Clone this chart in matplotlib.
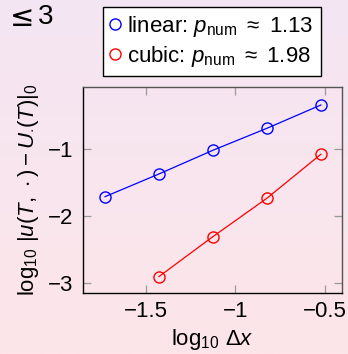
import numpy as np
import matplotlib
matplotlib.use("Agg")
import matplotlib.pyplot as plt
from matplotlib.lines import Line2D

plt.rcParams['font.family'] = ['Liberation Sans', 'DejaVu Sans']
plt.rcParams['mathtext.fontset'] = 'custom'
plt.rcParams['mathtext.rm'] = 'Liberation Sans'
plt.rcParams['mathtext.it'] = 'Liberation Sans:italic'
plt.rcParams['mathtext.bf'] = 'Liberation Sans:bold'
plt.rcParams['axes.unicode_minus'] = True

# data
log_dx_linear = [-1.727, -1.426, -1.125, -0.824, -0.523]
log_err_linear = [-1.71, -1.372, -1.019, -0.692, -0.345]
log_dx_cubic = [-1.426, -1.125, -0.824, -0.523]
log_err_cubic = [-2.90, -2.305, -1.734, -1.079]
label_linear = r"linear: $p_{\mathrm{num}}\ \approx\ 1.13$"
label_cubic = r"cubic: $p_{\mathrm{num}}\ \approx\ 1.98$"
xticks = [-1.5, -1.0, -0.5]
xticklabels = ["\u22121.5", "\u22121", "\u22120.5"]
yticks = [-1, -2, -3]
yticklabels = ["\u22121", "\u22122", "\u22123"]

W, H = 348, 354
fig = plt.figure(figsize=(W/100, H/100), dpi=100)

# background gradient
bg = fig.add_axes([0, 0, 1, 1], zorder=-10)
top = np.array([244, 230, 243]) / 255
bot = np.array([253, 229, 233]) / 255
t = np.linspace(0, 1, 256)[:, None]
grad = (top[None, :] * (1 - t) + bot[None, :] * t)[:, None, :]
bg.imshow(grad, aspect='auto', extent=[0, 1, 0, 1])
bg.axis('off')

fig.text(10/W, 1 - 18/H, "\u2264", fontsize=21, va='center', ha='left',
         family=['Noto Sans', 'DejaVu Sans'])
fig.text(38/W, 1 - 17/H, "3", fontsize=20, va='center', ha='left')

ax = fig.add_axes([83/W, 1 - 293/H, (342-83)/W, (293-87)/H])
ax.patch.set_alpha(0)
fs = 16
ax.plot(log_dx_linear, log_err_linear, color='#0000ff', lw=0.9, marker='o',
        ms=8, mfc='none', mec='#0000ff', mew=1.0, label=label_linear)
ax.plot(log_dx_cubic, log_err_cubic, color='#ff0000', lw=0.9, marker='o',
        ms=8, mfc='none', mec='#ff0000', mew=1.0, label=label_cubic)

ax.set_xlim(-1.85, -0.405)
ax.set_ylim(-3.145, -0.077)
ax.set_xticks(xticks)
ax.set_xticklabels(xticklabels)
ax.set_yticks(yticks)
ax.set_yticklabels(yticklabels)
ax.tick_params(direction='in', length=6, width=0.9, color='#999999',
               top=True, right=True, labelsize=fs)
ax.tick_params(axis='y', pad=7)
ax.tick_params(axis='x', pad=6)
for s in ['left', 'bottom']:
    ax.spines[s].set_color('black')
    ax.spines[s].set_linewidth(1.0)
for s in ['top', 'right']:
    ax.spines[s].set_color('#555555')
    ax.spines[s].set_linewidth(1.0)

ax.set_xlabel(r"$\log_{10}\,\Delta x$", fontsize=fs, labelpad=3)
ax.set_ylabel(r"$\log_{10}\,|u(T,\,\cdot) - U_{\cdot}(T)|_0$", fontsize=fs, labelpad=5)

labels = [label_linear, label_cubic]
h2 = [Line2D([], [], ls='none', marker='o', ms=8, mfc='none', mec=c, mew=1.0)
      for c in ['#0000ff', '#ff0000']]
leg = fig.legend(h2, labels, loc='upper left', bbox_to_anchor=(103/W, 1 - 7/H),
                 bbox_transform=fig.transFigure, borderaxespad=0, fontsize=fs,
                 frameon=True, fancybox=False, edgecolor='black', facecolor='white',
                 framealpha=1, handlelength=0.5, handletextpad=0.3, labelspacing=0.25,
                 borderpad=0.3)
leg.get_frame().set_linewidth(1.0)

fig.savefig("out.png", dpi=100)
